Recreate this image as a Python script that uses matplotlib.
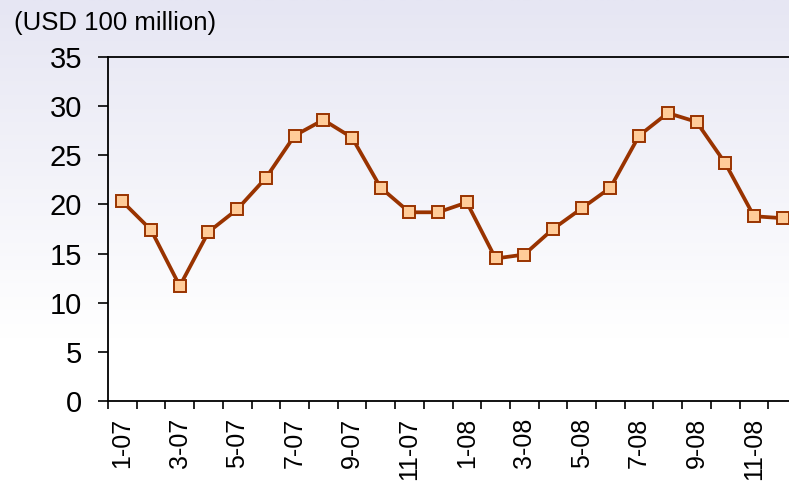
import matplotlib
matplotlib.use("Agg")
import matplotlib.pyplot as plt
import numpy as np
from matplotlib.colors import LinearSegmentedColormap

plt.rcParams["font.family"] = ["Liberation Sans", "DejaVu Sans"]

# monthly values, USD 100 million
months = ["1-07", "2-07", "3-07", "4-07", "5-07", "6-07", "7-07", "8-07",
          "9-07", "10-07", "11-07", "12-07", "1-08", "2-08", "3-08", "4-08",
          "5-08", "6-08", "7-08", "8-08", "9-08", "10-08", "11-08", "12-08"]
values = [20.3, 17.4, 11.7, 17.2, 19.5, 22.7, 27.0, 28.6, 26.8, 21.7, 19.2, 19.2,
          20.2, 14.5, 14.9, 17.5, 19.6, 21.7, 27.0, 29.3, 28.4, 24.2, 18.8, 18.6]
y_ticks = [0, 5, 10, 15, 20, 25, 30, 35]

LINE = "#993300"
FACE = "#ffcc99"

fig = plt.figure(figsize=(7.89, 4.82), dpi=100)

# background gradient: lavender at top fading to white
bg = fig.add_axes([0, 0, 1, 1], zorder=-10)
cmap = LinearSegmentedColormap.from_list(
    "bg", [(0.0, "#ffffff"), (0.30, "#ffffff"), (1.0, "#e6e6f3")])
bg.imshow(np.linspace(0, 1, 256).reshape(-1, 1), aspect="auto", cmap=cmap,
          origin="lower", extent=[0, 1, 0, 1])
bg.set_axis_off()

ax = fig.add_axes([108 / 789, 1 - 401 / 482, 689 / 789, 344 / 482])
ax.patch.set_alpha(0)

x = np.arange(len(months))
ax.plot(x, values, color=LINE, lw=2.7, marker="s", ms=8.5,
        mfc=FACE, mec=LINE, mew=1.4, clip_on=False, zorder=3)

ax.set_xlim(-0.5, len(months) - 0.5)
ax.set_ylim(0, 35)
ax.set_yticks(y_ticks)
ax.tick_params(axis="y", labelsize=21, length=7.5, width=1.2, direction="out",
               pad=11, colors="black")

# ticks at category boundaries, labels every other month
ax.set_xticks(np.arange(len(months) + 1) - 0.5)
ax.set_xticklabels([])
ax.set_xticks(x[::2], minor=True)
ax.set_xticklabels(months[::2], minor=True, rotation=90, fontsize=18)
ax.tick_params(axis="x", which="major", length=5.5, width=1.2, direction="out")
ax.tick_params(axis="x", which="minor", length=0, pad=12)

for side in ["left", "top", "bottom"]:
    ax.spines[side].set_linewidth(1.3)
ax.spines["right"].set_visible(False)

fig.text(14 / 789, 1 - 23 / 482, "(USD 100 million)", fontsize=18.5,
         va="center", ha="left")

fig.savefig("out.png", dpi=100)
